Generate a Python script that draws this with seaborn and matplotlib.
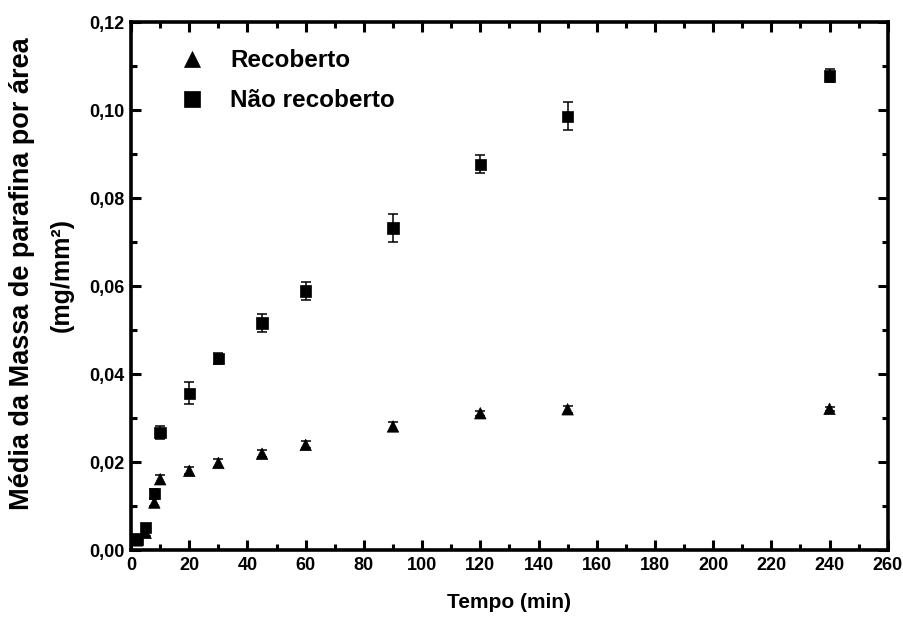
import numpy as np
import pandas as pd
import seaborn as sns
import matplotlib.pyplot as plt
from matplotlib.ticker import MultipleLocator, FuncFormatter

# data
tempo = [2, 5, 8, 10, 20, 30, 45, 60, 90, 120, 150, 240]
recoberto = [0.0022, 0.0039, 0.0108, 0.0161, 0.0180, 0.0198, 0.0219, 0.0239, 0.0281, 0.0311, 0.0320, 0.0321]
recoberto_err = [0.0004, 0.0006, 0.0008, 0.0010, 0.0008, 0.0009, 0.0008, 0.0008, 0.0010, 0.0006, 0.0008, 0.0005]
nao_recoberto = [0.0025, 0.0051, 0.0128, 0.0267, 0.0356, 0.0436, 0.0516, 0.0589, 0.0732, 0.0877, 0.0986, 0.1078]
nao_recoberto_err = [0.0004, 0.0006, 0.0010, 0.0015, 0.0025, 0.0012, 0.0020, 0.0020, 0.0032, 0.0020, 0.0032, 0.0015]
series = ["Recoberto", "Não recoberto"]

df = pd.DataFrame({
    "tempo": tempo * 2,
    "massa": recoberto + nao_recoberto,
    "err": recoberto_err + nao_recoberto_err,
    "grupo": [series[0]] * len(tempo) + [series[1]] * len(tempo),
})

sns.set_style("ticks", {"axes.edgecolor": "black", "text.color": "black",
                        "xtick.color": "black", "ytick.color": "black", "axes.labelcolor": "black"})
plt.rcParams['font.family'] = ['Liberation Sans', 'DejaVu Sans']
plt.rcParams['font.weight'] = 'bold'

fig = plt.figure(figsize=(9.04, 6.33), dpi=100)
ax = fig.add_axes([0.145, 0.131, 0.837, 0.834])

for g in series:
    d = df[df.grupo == g]
    ax.errorbar(d.tempo, d.massa, yerr=d.err, fmt='none', ecolor='black',
                elinewidth=1.1, capsize=3.5, capthick=1.1, zorder=2)

sns.scatterplot(data=df, x="tempo", y="massa", style="grupo", markers={"Recoberto": "^", "Não recoberto": "s"},
                color="black", s=68, edgecolor="black", linewidth=0.5, ax=ax, zorder=3)

ax.set_xlim(0, 260)
ax.set_ylim(0, 0.12)
ax.xaxis.set_major_locator(MultipleLocator(20))
ax.xaxis.set_minor_locator(MultipleLocator(10))
ax.yaxis.set_major_locator(MultipleLocator(0.02))
ax.yaxis.set_minor_locator(MultipleLocator(0.01))
ax.yaxis.set_major_formatter(FuncFormatter(lambda v, p: f"{v:.2f}".replace(".", ",")))

ax.tick_params(which='both', direction='in', top=True, right=True, width=2.2, labelsize=13,
               color='black', labelcolor='black')
ax.tick_params(which='major', length=7, pad=5)
ax.tick_params(which='minor', length=4)
for lab in ax.get_xticklabels() + ax.get_yticklabels():
    lab.set_fontweight('bold')
for sp in ax.spines.values():
    sp.set_linewidth(2.6)
    sp.set_color('black')
    sp.set_visible(True)

ax.set_xlabel("Tempo (min)", fontsize=15, fontweight='bold', labelpad=14, color='black')
ax.set_ylabel("")
fig.text(0.024, 0.567, "Média da Massa de parafina por área", rotation=90, fontsize=19.5,
         fontweight='bold', ha='center', va='center', color='black')
fig.text(0.068, 0.565, "(mg/mm²)", rotation=90, fontsize=18,
         fontweight='bold', ha='center', va='center', color='black')

leg = ax.legend(loc='upper left', frameon=False, fontsize=17.5, bbox_to_anchor=(0.02, 0.99),
                handletextpad=0.55, labelspacing=0.7, markerscale=1.45)
for t in leg.get_texts():
    t.set_fontweight('bold')
    t.set_color('black')

fig.savefig("out.png", dpi=100, facecolor='white')
